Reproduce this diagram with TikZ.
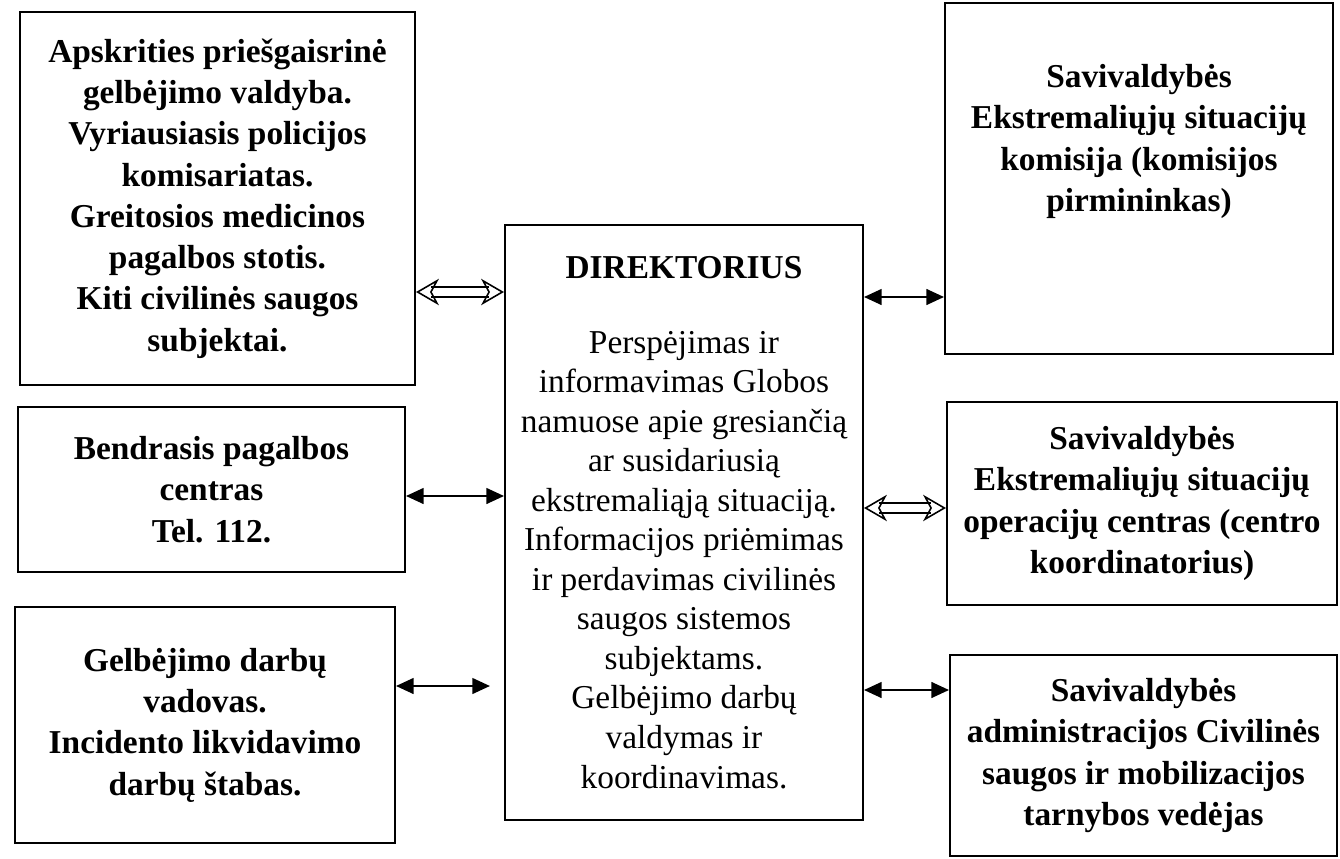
\documentclass[tikz,border=0pt]{standalone}
\usepackage{fontspec}
\setmainfont{Liberation Serif}
\usetikzlibrary{arrows,arrows.meta}

\begin{document}
\begin{tikzpicture}[x=0.02cm,y=-0.02cm,
  box/.style={draw=black,line width=1.2pt,align=center,inner sep=0pt,
    font=\fontsize{19}{23.5}\selectfont\bfseries},
  dbl/.style={double,double distance=4.5pt,line width=0.9pt,
    {Stealth[open,length=13pt,width=15pt,inset=4pt,line width=0.9pt]}-{Stealth[open,length=13pt,width=15pt,inset=4pt,line width=0.9pt]}},
  sgl/.style={line width=1pt,{Triangle[length=10pt,width=9pt]}-{Triangle[length=10pt,width=9pt]}}]
\useasboundingbox (0,0) rectangle (1340,859);

% kairiosios dezes
\node[box,minimum width=7.9cm,minimum height=7.46cm] (apsk) at (217.5,198.5)
  {Apskrities priešgaisrinė\\ gelbėjimo valdyba.\\ Vyriausiasis policijos\\ komisariatas.\\
   Greitosios medicinos\\ pagalbos stotis.\\ Kiti civilinės saugos\\ subjektai.};
\node[box,minimum width=7.74cm,minimum height=3.3cm] (bpc) at (211.5,489.5)
  {Bendrasis pagalbos\\ centras\\ Tel. 112.};
\node[box,minimum width=7.6cm,minimum height=4.72cm] (gdv) at (205,725)
  {Gelbėjimo darbų\\ vadovas.\\ Incidento likvidavimo\\ darbų štabas.};

% centras
\node[box,minimum width=7.16cm,minimum height=11.9cm,font=\fontsize{19}{22.5}\selectfont] (dir) at (684,522.5)
  {\textbf{DIREKTORIUS}\\[0.7cm] Perspėjimas ir\\ informavimas Globos\\ namuose apie gresiančią\\
   ar susidariusią\\ ekstremaliąją situaciją.\\ Informacijos priėmimas\\ ir perdavimas civilinės\\
   saugos sistemos\\ subjektams.\\ Gelbėjimo darbų\\ valdymas ir\\ koordinavimas.};

% desiniosios dezes
\node[box,minimum width=7.76cm,minimum height=7.02cm] (savk) at (1139,178.5)
  {Savivaldybės\\ Ekstremaliųjų situacijų\\ komisija (komisijos\\ pirmininkas)\\[0.8cm]~};
\node[box,minimum width=7.8cm,minimum height=4.06cm] (savo) at (1142,503.5)
  {Savivaldybės\\ Ekstremaliųjų situacijų\\ operacijų centras (centro\\ koordinatorius)};
\node[box,minimum width=7.74cm,minimum height=4.02cm] (savc) at (1143.5,755.5)
  {Savivaldybės\\ administracijos Civilinės\\ saugos ir mobilizacijos\\ tarnybos vedėjas};

% rodykles
\draw[dbl] (apsk.east |- 0,292) -- (dir.west |- 0,292);
\draw[sgl] (bpc.east |- 0,496) -- (dir.west |- 0,496);
\draw[sgl] (gdv.east |- 0,686) -- ([xshift=-8]dir.west |- 0,686);
\draw[sgl] (dir.east |- 0,297) -- (savk.west |- 0,297);
\draw[dbl] (dir.east |- 0,508) -- (savo.west |- 0,508);
\draw[sgl] (dir.east |- 0,690) -- (savc.west |- 0,690);
\end{tikzpicture}
\end{document}
